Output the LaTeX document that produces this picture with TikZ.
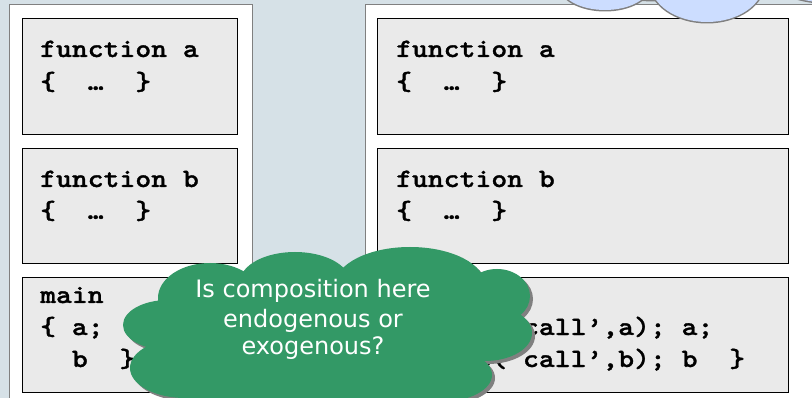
\documentclass[tikz,border=0pt]{standalone}
\usepackage{fontspec}
\setmainfont{DejaVu Sans}
\newfontfamily\codefont{lmmonolt10-bold}[Extension=.otf, FakeStretch=1.14, FakeBold=1.2]
\definecolor{bg}{RGB}{214,225,231}
\definecolor{panelline}{RGB}{128,128,128}
\definecolor{boxgray}{RGB}{234,234,234}
\definecolor{cloudgreen}{RGB}{51,153,102}
\definecolor{cloudblue}{RGB}{204,221,255}
\definecolor{shadowgray}{RGB}{128,128,128}
\begin{document}
\begin{tikzpicture}[x=1pt,y=-1pt,
  panel/.style={draw=panelline, fill=white, line width=0.8pt},
  codebox/.style={draw=black, fill=boxgray, line width=0.8pt, inner sep=0pt,
    anchor=north west},
  code/.style={anchor=base west, inner sep=0pt,
    font=\codefont\fontsize{26.5}{32}\selectfont},
  saying/.style={anchor=base, inner sep=0pt, text=white,
    font=\fontsize{24}{28}\selectfont}]
\useasboundingbox (0,0) rectangle (812,398);
\clip (0,0) rectangle (812,398);
\fill[bg] (0,0) rectangle (812,398);

% two program panels
\draw[panel] (9,4) rectangle (252,410);
\draw[panel] (365,4) rectangle (830,410);

% left program
\node[codebox, minimum width=215, minimum height=116] (la) at (22,18) {};
\node[codebox, minimum width=215, minimum height=115] (lb) at (22,148) {};
\node[codebox, minimum width=215, minimum height=115] (lm) at (22,277) {};
\node[code] (la1) at (40,57)  {function\ a};
\node[code] (la2) at (40,90)  {\{\ \ …\ \ \}};
\node[code] (lb1) at (40,187) {function\ b};
\node[code] (lb2) at (40,219) {\{\ \ …\ \ \}};
\node[code] (lm1) at (40,303) {main};
\node[code] (lm2) at (40,335) {\{\ a;};
\node[code] (lm3) at (40,367) {\ \ b\ \ \}};

% right program (its first lines sit under the cloud)
\node[codebox, minimum width=411, minimum height=116] (ra) at (377,18) {};
\node[codebox, minimum width=411, minimum height=115] (rb) at (377,148) {};
\node[codebox, minimum width=411, minimum height=115] (rm) at (377,277) {};
\node[code] (ra1) at (396,57)  {function\ a};
\node[code] (ra2) at (396,90)  {\{\ \ …\ \ \}};
\node[code] (rb1) at (396,187) {function\ b};
\node[code] (rb2) at (396,219) {\{\ \ …\ \ \}};
\node[code] (rm2) at (396,335) {\{\ note(‘call’,a);\ a;};
\node[code] (rm3) at (396,367) {\ \ note(‘call’,b);\ b\ \ \}};

% blue cloud at the top edge: gray rim, then the fill
\def\blueparts{605/-15/45/25, 707/-18/57/40, 660/-30/110/30, 835/-22/65/25}
\foreach \cx/\cy/\rx/\ry in \blueparts
  \draw[shadowgray, line width=3] (\cx,\cy) ellipse [x radius=\rx, y radius=\ry];
\foreach \cx/\cy/\rx/\ry in \blueparts
  \fill[cloudblue] (\cx,\cy) ellipse [x radius=\rx, y radius=\ry];

% green thought cloud: shadow, then the fill
\def\greenparts{325/335/170/58, 210/298/52/35, 295/282/55/30, 410/285/75/38,
  497/296/33/27, 485/333/47/28, 168/325/45/25, 185/368/55/30, 440/375/52/27,
  325/392/140/30}
\foreach \cx/\cy/\rx/\ry in \greenparts
  \fill[shadowgray] (\cx+3,\cy+3) ellipse [x radius=\rx, y radius=\ry];
\foreach \cx/\cy/\rx/\ry in \greenparts
  \fill[cloudgreen] (\cx,\cy) ellipse [x radius=\rx, y radius=\ry];
\node[saying] (q1) at (313,298) {Is composition here};
\node[saying] (q2) at (313,327) {endogenous or};
\node[saying] (q3) at (313,355) {exogenous?};
\end{tikzpicture}
\end{document}
